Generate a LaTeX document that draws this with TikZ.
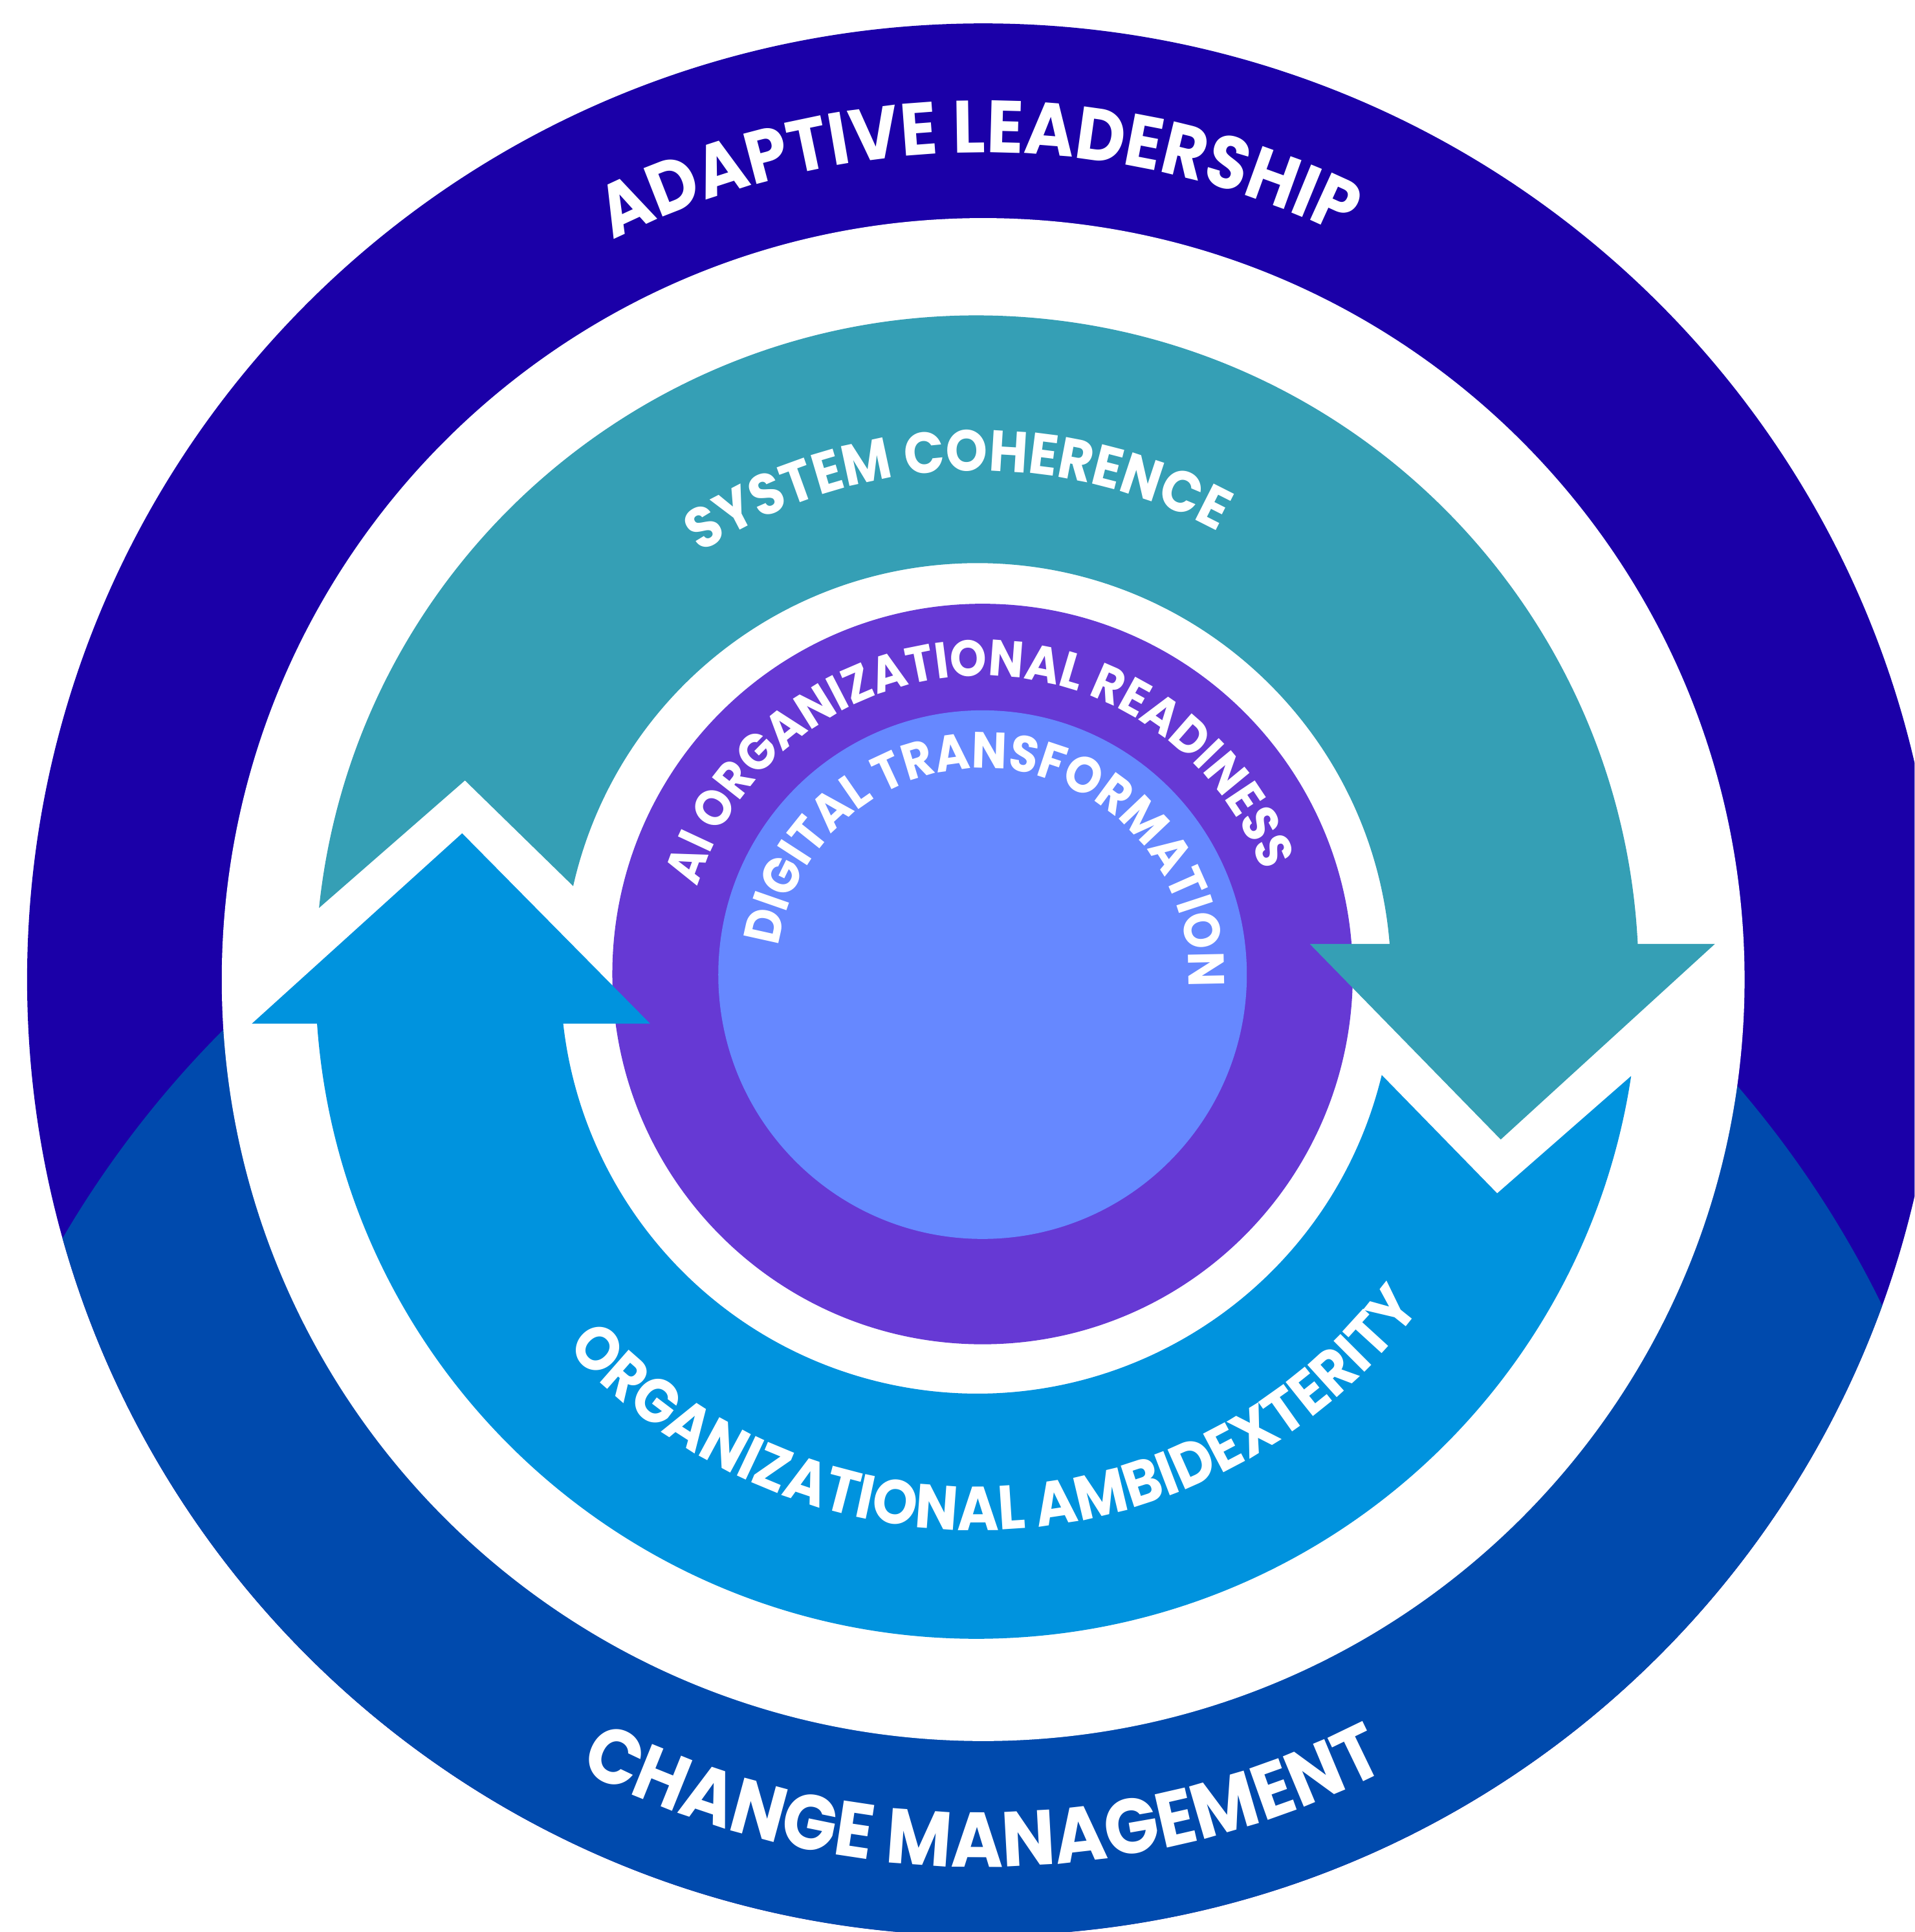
\documentclass[tikz,border=0pt]{standalone}
\usepackage{fontspec}
\newfontfamily\ringfont{Poppins}[FakeStretch=0.92]
\usetikzlibrary{calc, decorations.text}
\definecolor{outerviolet}{RGB}{27,0,168}
\definecolor{outerblue}{RGB}{0,74,173}
\definecolor{coherteal}{RGB}{53,159,181}
\definecolor{ambiblue}{RGB}{0,147,222}
\definecolor{readypurple}{RGB}{102,57,212}
\definecolor{digiblue}{RGB}{102,136,255}
\newcommand{\adaptfont}{\ringfont\bfseries\fontsize{34.2pt}{35pt}\selectfont}
\newcommand{\changefont}{\ringfont\bfseries\fontsize{35.9pt}{36pt}\selectfont}
\newcommand{\coherfont}{\ringfont\bfseries\fontsize{26.7pt}{27pt}\selectfont}
\newcommand{\ambifont}{\ringfont\bfseries\fontsize{28.7pt}{29pt}\selectfont}
\newcommand{\readyfont}{\ringfont\bfseries\fontsize{23.5pt}{24pt}\selectfont}
\newcommand{\digifont}{\ringfont\bfseries\fontsize{23.5pt}{24pt}\selectfont}
\tikzstyle{arclabel} = [decorate, decoration={text along path, text align=center, text color=white}]

\begin{document}
\begin{tikzpicture}[x=0.02cm, y=0.02cm]

\useasboundingbox (0,0) rectangle (1554,-1568);
\clip (0,0) rectangle (1554,-1568);
\fill [white] (0,0) rectangle (1554,-1568);

% centres
\coordinate (O) at (798,-795);
\coordinate (A) at (793,-793);
\coordinate (P) at (797.5,-790.5);

% outer ring
\fill [outerviolet] (O) circle [radius=776];
\begin{scope}
  \clip (O) circle [radius=776];
  \fill [outerblue] (774.6,-1427.5) circle [radius=838];
\end{scope}
\fill [white] (O) circle [radius=618];

% core
\fill [readypurple] (P) circle [radius=300.5];
\fill [digiblue] (797.5,-791) circle [radius=214.5];

% arrows
\fill [coherteal] ($(A)+(174:537)$) arc [start angle=174, end angle=2.87, radius=537]
  -- (1391.9,-766.1) -- (1218.1,-924.8) -- (1063.1,-766.1)
  -- ($(A)+(4.59:336)$) arc [start angle=4.59, end angle=167.3, radius=336]
  -- (377.4,-633.4) -- cycle;
\fill [ambiblue] ($(A)+(184.04:537)$) arc [start angle=184.04, end angle=351.4, radius=537]
  -- (1215.2,-968.5)
  -- ($(A)+(346.4:338)$) arc [start angle=346.4, end angle=186.42, radius=338]
  -- (527.7,-830.8) -- (375.1,-676.3) -- (204.4,-830.8) -- cycle;

% labels
\path [arclabel, decoration={text={|\adaptfont|ADAPTIVE LEADERSHIP}}]
  ($(O)+(170.3:671)$) arc [start angle=170.3, end angle=10.3, radius=671];
\path [arclabel, decoration={text={|\changefont|CHANGE MANAGEMENT}}]
  ($(O)+(190:720)$) arc [start angle=190, end angle=350, radius=720];
\path [arclabel, decoration={text={|\coherfont|SYSTEM COHERENCE}}]
  ($(A)+(172.35:411)$) arc [start angle=172.35, end angle=12.35, radius=411];
\path [arclabel, decoration={text={|\ambifont|ORGANIZATIONAL AMBIDEXTERITY}}]
  ($(A)+(187.7:449)$) arc [start angle=187.7, end angle=357.7, radius=449];
\path [arclabel, decoration={text={|\readyfont|AI ORGANIZATIONAL READINESS}}]
  ($(P)+(191.6:242)$) arc [start angle=191.6, end angle=-8.4, radius=242];
\path [arclabel, decoration={text={|\digifont|DIGITAL TRANSFORMATION}}]
  ($(P)+(194.25:167)$) arc [start angle=194.25, end angle=-25.75, radius=167];

\end{tikzpicture}
\end{document}
